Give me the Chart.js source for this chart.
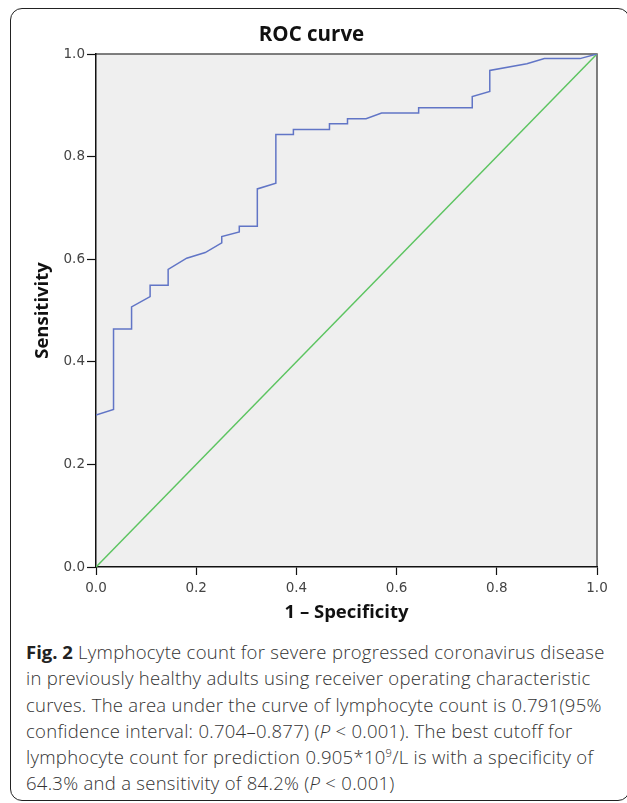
<!DOCTYPE html>
<html>
<head>
<meta charset="utf-8">
<script src="https://cdn.jsdelivr.net/npm/chart.js@4"></script>
<style>
  html, body { margin: 0; padding: 0; background: #fff; overflow: hidden; }
  body { width: 627px; height: 803px; position: relative; }
  #frame {
    position: absolute; left: 10px; top: 8px; width: 620px; height: 793px;
    border: 1.5px solid #222; border-radius: 12px; box-sizing: border-box;
  }
  #myChart { position: absolute; left: 0; top: 0; }
  #caption {
    position: absolute; left: 26px; top: 639px;
    font-family: "Open Sans", sans-serif; font-size: 18.5px; line-height: 26.3px;
    font-weight: 300; color: #333; letter-spacing: 0.28px;
  }
  #caption div { white-space: nowrap; }
  #caption b { color: #222; font-weight: 700; letter-spacing: 0; }
</style>
</head>
<body>
<div id="frame"></div>
<canvas id="myChart" width="627" height="630"></canvas>
<div id="caption">
  <div><b>Fig. 2</b> Lymphocyte count for severe progressed coronavirus disease</div>
  <div>in previously healthy adults using receiver operating characteristic</div>
  <div>curves. The area under the curve of lymphocyte count is 0.791(95%</div>
  <div>confidence interval: 0.704–0.877) (<i>P</i> &lt; 0.001). The best cutoff for</div>
  <div>lymphocyte count for prediction 0.905*10<sup style="font-size:11px;line-height:0">9</sup>/L is with a specificity of</div>
  <div>64.3% and a sensitivity of 84.2% (<i>P</i> &lt; 0.001)</div>
</div>
<script>
(function () {

  "use strict";

  // ROC curve (1 - specificity, sensitivity)
  var fpr = [0, 0.035, 0.035, 0.071, 0.071, 0.108, 0.108, 0.144, 0.144, 0.181,
    0.218, 0.251, 0.251, 0.286, 0.286, 0.322, 0.322, 0.359, 0.359, 0.394,
    0.394, 0.466, 0.466, 0.502, 0.502, 0.539, 0.570, 0.644, 0.644, 0.751,
    0.751, 0.786, 0.786, 0.860, 0.895, 0.966, 1.0]
  var tpr = [0.296, 0.307, 0.464, 0.464, 0.507, 0.527, 0.549, 0.549, 0.580, 0.602,
    0.613, 0.632, 0.644, 0.653, 0.664, 0.664, 0.737, 0.748, 0.843, 0.843,
    0.853, 0.853, 0.864, 0.864, 0.874, 0.874, 0.885, 0.885, 0.895, 0.895,
    0.917, 0.927, 0.968, 0.981, 0.991, 0.991, 1.0]
  var refX = [0, 1]
  var refY = [0, 1]
  var tickValues = [0, 0.2, 0.4, 0.6, 0.8, 1.0]

  function toPoints(xs, ys) {
    var pts = []
    for (var i = 0; i < xs.length; i++) {
      pts.push({x: xs[i], y: ys[i]})
    }
    return pts
  }

  // grey plot background plus the thin top/right frame
  var plotBox = {
    id: 'plotBox',
    beforeDraw: function (chart) {
      var a = chart.chartArea, ctx = chart.ctx
      ctx.save()
      ctx.fillStyle = '#efefef'
      ctx.fillRect(a.left, a.top, a.right - a.left, a.bottom - a.top)
      ctx.strokeStyle = '#555'
      ctx.lineWidth = 1.5
      ctx.beginPath()
      ctx.moveTo(a.left, a.top)
      ctx.lineTo(a.right, a.top)
      ctx.lineTo(a.right, a.bottom)
      ctx.stroke()
      ctx.restore()
    }
  }

  var tickFont = {family: 'DejaVu Sans', size: 13.5}
  var titleFont = {family: 'Open Sans', size: 18.5, weight: 'bold'}

  var ctx = document.getElementById('myChart').getContext('2d')
  var myChart = new Chart(ctx, {
    type: 'line',
    data: {
      datasets: [{
        label: 'Lymphocyte count',
        data: toPoints(fpr, tpr),
        borderColor: '#6175c6',
        borderWidth: 1.5,
        pointRadius: 0,
        fill: false,
        tension: 0
      }, {
        label: 'Reference line',
        data: toPoints(refX, refY),
        borderColor: '#5cc460',
        borderWidth: 1.5,
        pointRadius: 0,
        fill: false,
        tension: 0
      }]
    },
    options: {
      responsive: false,
      animation: false,
      layout: {padding: {left: 26, right: 30, top: 0, bottom: 0}},
      plugins: {
        legend: {display: false},
        tooltip: {enabled: false},
        title: {
          display: true,
          text: 'ROC curve',
          color: '#111',
          font: {family: 'Open Sans', size: 20.5, weight: 'bold'},
          padding: {top: 22.7, bottom: 6.7}
        }
      },
      scales: {
        x: {
          type: 'linear',
          min: 0,
          max: 1,
          afterBuildTicks: function (s) { s.ticks = tickValues.map(function (v) { return {value: v} }) },
          afterFit: function (s) { s.height = 63 },
          grid: {drawOnChartArea: false, drawTicks: true, tickLength: 8, tickColor: '#111', tickWidth: 1.2},
          border: {display: true, color: '#111', width: 1.5},
          ticks: {
            color: '#444', font: tickFont, padding: 5, maxRotation: 0,
            callback: function (v) { return v.toFixed(1) }
          },
          title: {display: true, text: '1 – Specificity', color: '#111', font: titleFont, padding: {top: 0, bottom: 6}}
        },
        y: {
          type: 'linear',
          min: 0,
          max: 1,
          afterBuildTicks: function (s) { s.ticks = tickValues.map(function (v) { return {value: v} }) },
          afterFit: function (s) { s.width = 70 },
          grid: {drawOnChartArea: false, drawTicks: true, tickLength: 9, tickColor: '#111', tickWidth: 1.2},
          border: {display: true, color: '#111', width: 1.5},
          ticks: {
            color: '#444', font: tickFont, padding: 2,
            callback: function (v) { return v.toFixed(1) }
          },
          title: {display: true, text: 'Sensitivity', color: '#111', font: titleFont, padding: {top: 6, bottom: 0}}
        }
      }
    },
    plugins: [plotBox]
  });
})();
</script>
</body>
</html>
